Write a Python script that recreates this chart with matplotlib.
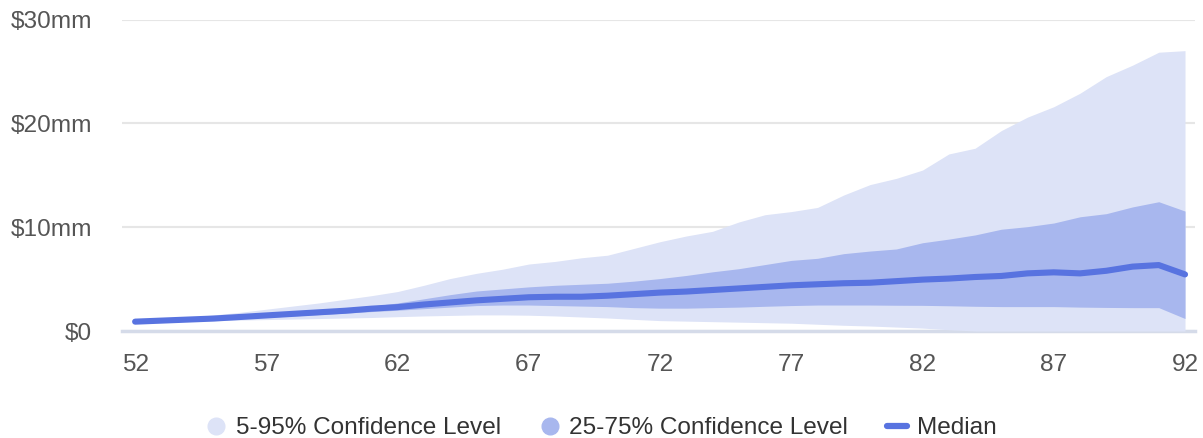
import matplotlib
matplotlib.use("Agg")
import matplotlib.pyplot as plt
from matplotlib.lines import Line2D

plt.rcParams['font.family'] = ['Liberation Sans', 'DejaVu Sans']

ages = list(range(52, 93))
p05 = [0.85, 0.9, 0.95, 1.0, 1.05, 1.1, 1.15, 1.2, 1.25, 1.3, 1.38, 1.45, 1.5, 1.55, 1.55,
       1.52, 1.45, 1.35, 1.25, 1.12, 1.0, 0.95, 0.9, 0.85, 0.8, 0.75, 0.65, 0.55, 0.48, 0.38,
       0.28, 0.12, 0.0, 0.0, 0.0, 0.0, 0.0, 0.0, 0.0, 0.0, 0.0]
p25 = [0.88, 0.97, 1.05, 1.13, 1.22, 1.32, 1.45, 1.58, 1.72, 1.87, 2.0, 2.15, 2.3, 2.45, 2.5,
       2.5, 2.45, 2.4, 2.35, 2.25, 2.2, 2.2, 2.25, 2.3, 2.38, 2.45, 2.5, 2.5, 2.5, 2.48,
       2.47, 2.43, 2.38, 2.35, 2.35, 2.35, 2.3, 2.27, 2.25, 2.25, 1.2]
median = [0.9, 1.0, 1.1, 1.2, 1.35, 1.5, 1.65, 1.8, 1.95, 2.15, 2.3, 2.55, 2.75, 2.95, 3.1,
          3.25, 3.3, 3.3, 3.4, 3.55, 3.7, 3.8, 3.95, 4.1, 4.25, 4.4, 4.5, 4.6, 4.65, 4.8,
          4.95, 5.05, 5.2, 5.3, 5.55, 5.65, 5.55, 5.8, 6.2, 6.35, 5.45]
p75 = [0.92, 1.03, 1.15, 1.28, 1.43, 1.6, 1.77, 1.95, 2.15, 2.4, 2.7, 3.1, 3.5, 3.85, 4.05,
       4.25, 4.4, 4.5, 4.6, 4.8, 5.05, 5.35, 5.7, 6.0, 6.4, 6.8, 7.0, 7.45, 7.7, 7.9,
       8.5, 8.85, 9.25, 9.8, 10.05, 10.4, 11.0, 11.3, 11.95, 12.45, 11.55]
p95 = [0.95, 1.1, 1.3, 1.55, 1.8, 2.1, 2.4, 2.7, 3.05, 3.4, 3.8, 4.4, 5.05, 5.55, 5.95,
       6.45, 6.7, 7.05, 7.3, 7.95, 8.6, 9.15, 9.6, 10.5, 11.2, 11.5, 11.9, 13.1, 14.1, 14.7,
       15.5, 17.05, 17.6, 19.3, 20.6, 21.6, 22.9, 24.5, 25.6, 26.85, 27.0]

x_ticks = [52, 57, 62, 67, 72, 77, 82, 87, 92]
y_ticks = [0, 10, 20, 30]
y_labels = ['$0', '$10mm', '$20mm', '$30mm']
legend_labels = ['5-95% Confidence Level', '25-75% Confidence Level', 'Median']

c_light = '#dde3f7'
c_dark = '#a8b7ee'
c_line = '#5873e0'
c_text = '#555555'

fig = plt.figure(figsize=(12.03, 4.38), dpi=100)
ax = fig.add_axes([122/1203, 1-331/438, (1195-122)/1203, (331-19.5)/438])

ax.fill_between(ages, p05, p95, color=c_light, lw=0, zorder=2)
ax.fill_between(ages, p25, p75, color=c_dark, lw=0, zorder=3)
ax.plot(ages, median, color=c_line, lw=4.4, solid_capstyle='round', solid_joinstyle='round', zorder=4)

ax.set_xlim(51.5, 92.38)
ax.set_ylim(0, 30)
ax.set_yticks(y_ticks)
ax.set_yticklabels([l.replace('$', r'\$') for l in y_labels])
ax.set_xticks(x_ticks)
ax.set_xticklabels([str(t) for t in x_ticks])
ax.tick_params(axis='both', length=0, labelsize=17.6, colors=c_text)
ax.tick_params(axis='y', pad=21.6)
ax.tick_params(axis='x', pad=16.5)
for s in ax.spines.values():
    s.set_visible(False)
ax.grid(axis='y', color='#e6e6e6', lw=1.5, zorder=1)
ax.set_axisbelow(True)
ax.axhline(0, color='#d5dbe9', lw=2.5, zorder=1, clip_on=False)

handles = [
    Line2D([], [], ls='none', marker='o', markersize=12, markerfacecolor=c_light, markeredgecolor=c_light),
    Line2D([], [], ls='none', marker='o', markersize=12, markerfacecolor=c_dark, markeredgecolor=c_dark),
    Line2D([], [], color=c_line, lw=4.5, solid_capstyle='round'),
]
leg = fig.legend(handles, legend_labels, loc='center', bbox_to_anchor=(0.5, 1-428/438),
                 ncol=3, frameon=False, fontsize=17.6, handlelength=0.8, handletextpad=0.4,
                 columnspacing=1.6, labelcolor='#333333')

fig.savefig('out.png', dpi=100)
